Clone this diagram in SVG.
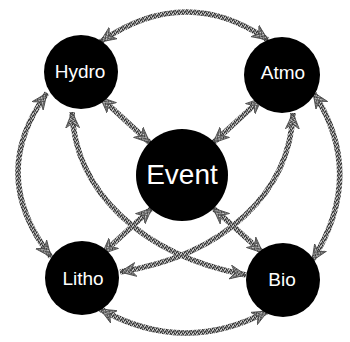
<svg xmlns="http://www.w3.org/2000/svg" width="350" height="342" viewBox="0 0 350 342">
<style>
.conn{fill:none;stroke:url(#speckle);stroke-width:5.5;marker-start:url(#arr);marker-end:url(#arr)}
.node{fill:#000}
.lbl{fill:#fff;font-family:"Liberation Sans","DejaVu Sans",sans-serif;text-anchor:middle}
</style>
<defs>
<pattern id="speckle" width="4" height="4" patternUnits="userSpaceOnUse">
<rect width="4" height="4" fill="#7a7a7a"/>
<rect x="0" y="0" width="1" height="1" fill="#2a2a2a"/>
<rect x="2" y="1" width="1" height="1" fill="#2a2a2a"/>
<rect x="1" y="3" width="1" height="1" fill="#333"/>
<rect x="3" y="2" width="1" height="1" fill="#3a3a3a"/>
<rect x="1" y="1" width="1" height="1" fill="#d8d8d8"/>
<rect x="3" y="0" width="1" height="1" fill="#c4c4c4"/>
<rect x="0" y="2" width="1" height="1" fill="#d0d0d0"/>
</pattern>
<marker id="arr" markerUnits="userSpaceOnUse" markerWidth="19" markerHeight="17" refX="16" refY="7.5" orient="auto-start-reverse" viewBox="0 0 19 17">
<path d="M16 7.5 L0 0.5 L5 7.5 L0 14.5 Z" fill="url(#speckle)" stroke="#444" stroke-width="0.8"/>
</marker>
</defs>
<g id="connectors">
<path class="conn" d="M100 42 Q186 -17 268 40"/>
<path class="conn" d="M100 309 Q184 356 268 311"/>
<path class="conn" d="M47 93 Q-13 175 51 257"/>
<path class="conn" d="M313 92 Q367 174 312 261"/>
<path class="conn" d="M72 112 C75 190 140 255 246 275"/>
<path class="conn" d="M293 113 C290 192 225 255 120 272"/>
<path class="conn" d="M100 97 L150 143"/>
<path class="conn" d="M262 98 L213 143"/>
<path class="conn" d="M102 254 L152 208"/>
<path class="conn" d="M263 253 L213 208"/>
</g>
<g id="hydro"><circle class="node" cx="81" cy="72" r="37"/><text class="lbl" x="80" y="78" font-size="19">Hydro</text></g>
<g id="atmo"><circle class="node" cx="282" cy="75" r="38"/><text class="lbl" x="283" y="79" font-size="19">Atmo</text></g>
<g id="event"><circle class="node" cx="182" cy="175" r="46"/><text class="lbl" x="182" y="184" font-size="28">Event</text></g>
<g id="litho"><circle class="node" cx="82" cy="278" r="37"/><text class="lbl" x="83" y="285" font-size="19">Litho</text></g>
<g id="bio"><circle class="node" cx="283" cy="280" r="37"/><text class="lbl" x="282" y="286" font-size="19">Bio</text></g>
</svg>
